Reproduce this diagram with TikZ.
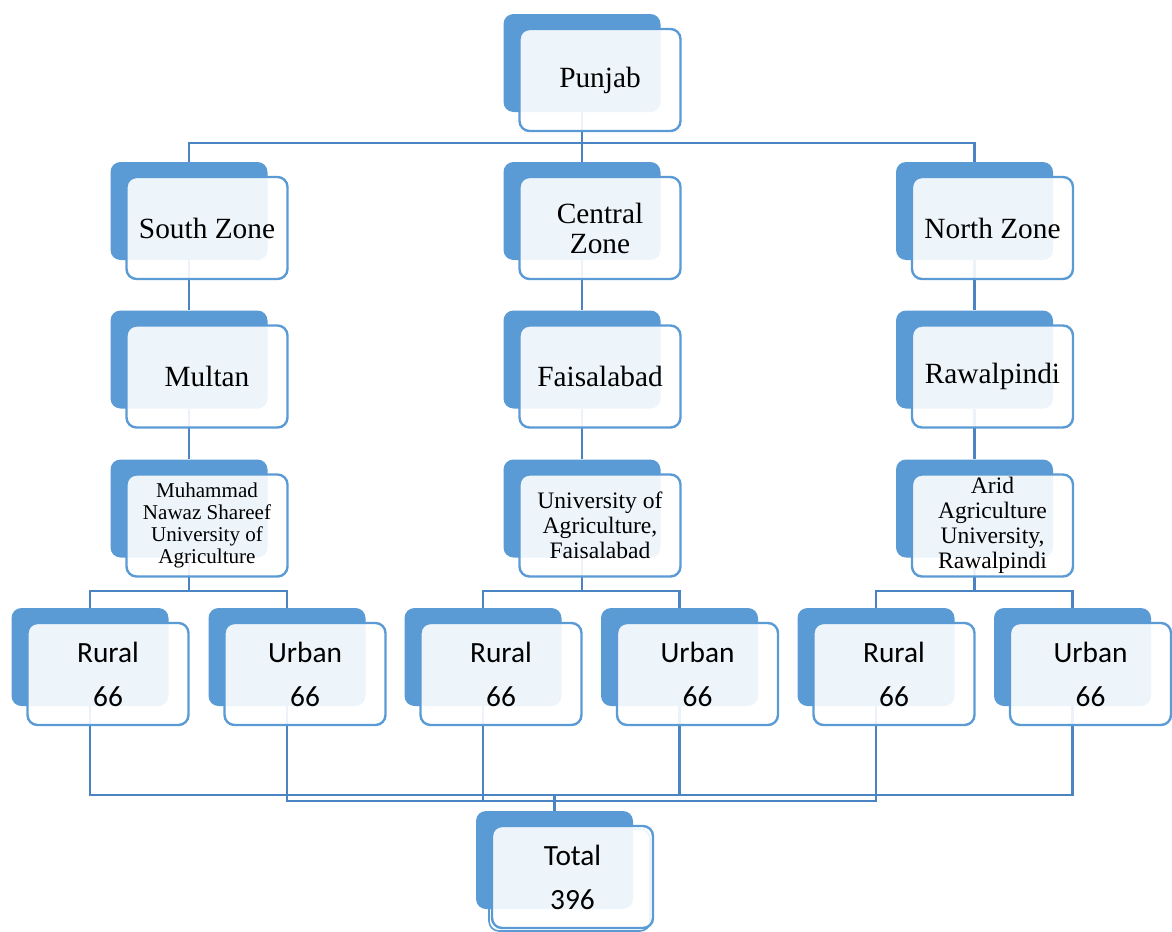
\documentclass[tikz,border=0pt]{standalone}
\usepackage{fontspec}
\setmainfont{Liberation Serif}
\newfontfamily\calfont{Carlito}
\usetikzlibrary{calc}
\pgfdeclarelayer{bg}
\pgfsetlayers{bg,main}
\definecolor{accent}{HTML}{5B9BD5}
\definecolor{connc}{HTML}{4A84C2}
\tikzset{
  backbox/.style={rectangle, rounded corners=7.5pt, fill=accent, draw=none,
    minimum width=117.75pt, minimum height=73.5pt, inner sep=0pt},
  frontbox/.style={rectangle, rounded corners=7.5pt, draw=accent, line width=1.8pt,
    fill=white, fill opacity=0.9, minimum width=120.75pt, minimum height=76.5pt, inner sep=0pt},
  ghostbox/.style={rectangle, rounded corners=7.5pt, draw=accent, line width=1.2pt,
    minimum width=120.75pt, minimum height=76.5pt, inner sep=0pt},
  boxtext/.style={align=center, inner sep=0pt, text=black},
  conn/.style={draw=connc, line width=2.2pt},
  serifbig/.style={font=\fontsize{22}{22.5}\selectfont},
  serifuni/.style={font=\fontsize{17.7}{18.6}\selectfont},
  serifsmall/.style={font=\fontsize{15.8}{16.3}\selectfont},
  sansleaf/.style={font=\calfont\fontsize{22}{33}\selectfont},
}
\newcommand\orgbox[5]{%
  \node[backbox] (#1b) at ({#2-18},{#3-17}) {};
  \node[frontbox] (#1) at (#2,#3) {};
  \node[boxtext,#4] (#1t) at (#2,#3) {#5};
}
\begin{document}
\begin{tikzpicture}[x=0.75pt,y=-0.75pt]
\useasboundingbox (0,0) rectangle (1172,932);
% level 1
\orgbox{pj}{600}{80}{serifbig}{Punjab}
% level 2
\orgbox{sz}{207}{228}{serifbig}{South Zone}
\orgbox{cz}{600}{228}{serifbig}{Central\\Zone}
\orgbox{nz}{992.5}{228}{serifbig}{North Zone}
% level 3
\orgbox{mu}{207}{376.5}{serifbig}{Multan}
\orgbox{fa}{600}{376.5}{serifbig}{Faisalabad}
\orgbox{ra}{992.5}{376.5}{serifbig}{Rawalpindi}
% level 4
\orgbox{u1}{207}{525.5}{serifsmall}{Muhammad\\Nawaz Shareef\\University of\\Agriculture}
\orgbox{u2}{600}{525.5}{serifuni}{University of\\Agriculture,\\Faisalabad}
\orgbox{u3}{992.5}{525.5}{serifuni}{Arid\\Agriculture\\University,\\Rawalpindi}
% level 5
\orgbox{r1}{108}{674}{sansleaf}{Rural\\66}
\orgbox{w1}{305}{674}{sansleaf}{Urban\\66}
\orgbox{r2}{501}{674}{sansleaf}{Rural\\66}
\orgbox{w2}{697.5}{674}{sansleaf}{Urban\\66}
\orgbox{r3}{894}{674}{sansleaf}{Rural\\66}
\orgbox{w3}{1090.5}{674}{sansleaf}{Urban\\66}
% total
\node[backbox] (totb) at ({572.5-18},{877-17}) {};
\node[ghostbox] (totg) at (569.5,880) {};
\node[frontbox] (tot) at (572.5,877) {};
\node[boxtext,sansleaf] (tott) at (572.5,877) {Total\\396};
% connectors
\coordinate (yTop) at (0,143);
\coordinate (yU) at (0,591);
\coordinate (yA) at (0,795);
\coordinate (yB) at (0,801);
\begin{pgfonlayer}{bg}
\draw[conn] (pjb.south) -- (pjb.south |- yTop) -| (szb.north);
\draw[conn] (pjb.south) -- (pjb.south |- yTop) -| (nzb.north);
\draw[conn] (pjb.south) -- (czb.north);
\draw[conn] (szb.south) -- (mub.north);
\draw[conn] (czb.south) -- (fab.north);
\draw[conn] (nzb.south) -- (rab.north);
\draw[conn] (mub.south) -- (u1b.north);
\draw[conn] (fab.south) -- (u2b.north);
\draw[conn] (rab.south) -- (u3b.north);
\draw[conn] (u1b.south) -- (u1b.south |- yU) -| (r1b.north);
\draw[conn] (u1b.south) -- (u1b.south |- yU) -| (w1b.north);
\draw[conn] (u2b.south) -- (u2b.south |- yU) -| (r2b.north);
\draw[conn] (u2b.south) -- (u2b.south |- yU) -| (w2b.north);
\draw[conn] (u3b.south) -- (u3b.south |- yU) -| (r3b.north);
\draw[conn] (u3b.south) -- (u3b.south |- yU) -| (w3b.north);
\draw[conn] (r1b.south) -- (r1b.south |- yA) -| (totb.north);
\draw[conn] (w2b.south) -- (w2b.south |- yA) -| (totb.north);
\draw[conn] (w3b.south) -- (w3b.south |- yA) -| (totb.north);
\draw[conn] (w1b.south) -- (w1b.south |- yB) -| (totb.north);
\draw[conn] (r2b.south) -- (r2b.south |- yB) -| (totb.north);
\draw[conn] (r3b.south) -- (r3b.south |- yB) -| (totb.north);
\end{pgfonlayer}
\end{tikzpicture}
\end{document}
